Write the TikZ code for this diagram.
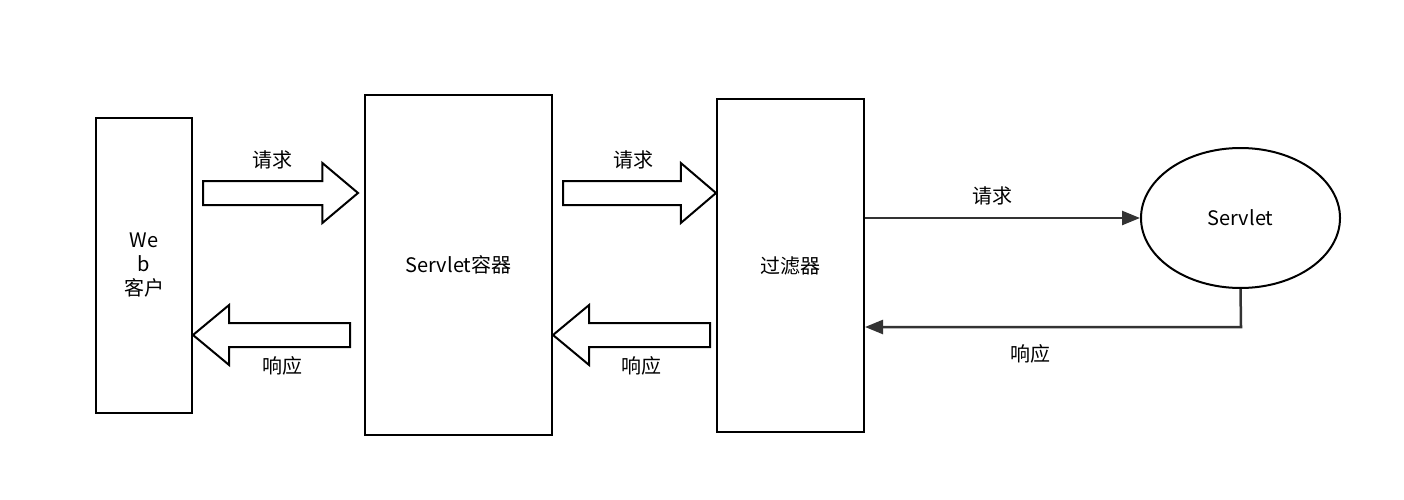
\documentclass[tikz,border=0pt]{standalone}
\usepackage{fontspec}
\setmainfont{Noto Sans CJK SC}
\usetikzlibrary{arrows.meta,shapes.geometric}

\tikzset{every picture/.style={line width=2pt}}
\tikzset{
  box/.style={draw,rectangle,inner sep=0pt,font=\fontsize{20}{24}\selectfont,align=center},
  lbl/.style={inner sep=0.75pt,font=\fontsize{20}{24}\selectfont},
  flow/.style={-{Triangle[length=18pt,width=14pt]},line width=2.5pt,color={rgb,255:red,51;green,51;blue,51}}
}
% hollow block arrow: \blockarrow{tail x}{tip x}{y}
\newcommand{\blockarrow}[3]{%
  \pgfmathsetmacro{\hx}{#2-0.23*(#2-#1)}%
  \draw [line join=miter] (#1,#3-12) -- (\hx,#3-12) -- (\hx,#3-30) -- (#2,#3) -- (\hx,#3+30) -- (\hx,#3+12) -- (#1,#3+12) -- cycle ;}

\begin{document}
\begin{tikzpicture}[x=1pt,y=1pt,yscale=-1,xscale=1]
\useasboundingbox (0,0) rectangle (1404,500);

%Boxes
\node [box,minimum width=96pt,minimum height=295pt] (web) at (144,265.5) {We\\b\\客户};
\node [box,minimum width=187pt,minimum height=340pt] (cont) at (458.5,265) {Servlet容器};
\node [box,minimum width=147pt,minimum height=333pt] (filt) at (790.5,265.5) {过滤器};
\node [draw,ellipse,minimum width=199pt,minimum height=140pt,inner sep=0pt,font=\fontsize{20}{24}\selectfont] (srv) at (1240.5,218) {Servlet};

%Block arrows
\blockarrow{203}{358}{193}
\blockarrow{563}{716}{193}
\blockarrow{350}{193}{335}
\blockarrow{710}{553}{335}

%Line arrows
\coordinate (req) at (filt.east |- srv.west);
\draw [flow] (req) -- (srv.west);
\draw [flow] (srv.south) -- (1241,327) -- (filt.east |- 0,327);

% Text Node
\node [lbl] (q1) at (272,160) {请求};
\node [lbl] (q2) at (633,160) {请求};
\node [lbl] (q3) at (992,196) {请求};
\node [lbl] (r1) at (282,366) {响应};
\node [lbl] (r2) at (641,366) {响应};
\node [lbl] (r3) at (1030,354) {响应};
\end{tikzpicture}
\end{document}
